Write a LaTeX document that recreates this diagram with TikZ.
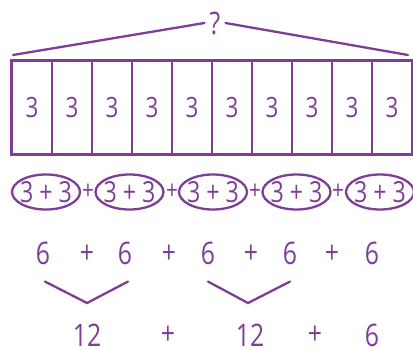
\documentclass[tikz,border=0pt]{standalone}
\usepackage{fontspec}
\setmainfont{Open Sans}[FakeStretch=0.8]
\usepackage{tikz}
\usetikzlibrary{positioning,calc}
\definecolor{grape}{RGB}{126,62,151}

\begin{document}
\begin{tikzpicture}[
  x=1pt, y=-1pt,
  every node/.style={text=grape, inner sep=1pt},
  big/.style={font=\fontsize{31}{33}\selectfont},
  cell/.style={draw=grape, line width=1.6pt, minimum width=40pt, minimum height=93pt, inner sep=0pt, font=\fontsize{28}{30}\selectfont},
  bar/.style={draw=grape, line width=3pt},
  ring/.style={draw=grape, line width=2.3pt},
  wing/.style={draw=grape, line width=2.3pt, line cap=round},
]
\useasboundingbox (0,0) rectangle (413,350);

% ---- the unknown total ----
\node[big] (Q) at (215,23) {?};
\coordinate (QL) at (13,55);
\coordinate (QR) at (408,55);
\draw[wing] ([xshift=-4pt]Q.west) -- (QL);
\draw[wing] ([xshift=4pt]Q.east) -- (QR);

% ---- the bar of ten threes ----
\foreach \i in {1,...,10}
  \node[cell] (C\i) at ({40*\i-8},107.5) {3};
\draw[bar] (C1.north west) rectangle (C10.south east);

% ---- pairs of threes ----
\foreach \i in {1,...,5} {
  \node[font=\fontsize{29}{31}\selectfont] (P\i) at ({46+83.5*(\i-1)},192) {3 + 3};
  \draw[ring] (P\i.center) ellipse [x radius=34pt, y radius=17.5pt];
}
\foreach \i/\x in {1/88,2/172,3/255,4/338}
  \node[font=\fontsize{26}{28}\selectfont] (PP\i) at (\x,192) {+};

% ---- the sums of the pairs ----
\node[big] (S1) at (43,253) {6};
\node[big] (S2) at (125,253) {6};
\node[big] (S3) at (208,253) {6};
\node[big] (S4) at (290,253) {6};
\node[big] (S5) at (372,253) {6};
\foreach \i/\x in {1/87,2/169,3/251,4/332}
  \node[big] (SP\i) at (\x,254) {+};

% ---- grouping the sixes ----
\coordinate (V1) at (87,303);
\coordinate (V2) at (248,303);
\draw[wing] ([xshift=2pt,yshift=-16pt]S1.south) -- (V1) -- ([xshift=3pt,yshift=-16pt]S2.south);
\draw[wing] ([yshift=-16pt]S3.south) -- (V2) -- ([yshift=-16pt]S4.south);

% ---- the last line ----
\node[big] (T1) at (87,335) {12};
\node[big] (TP1) at (168,335) {+};
\node[big] (T2) at (250,335) {12};
\node[big] (TP2) at (315,335) {+};
\node[big] (T3) at (372,335) {6};

\end{tikzpicture}
\end{document}
